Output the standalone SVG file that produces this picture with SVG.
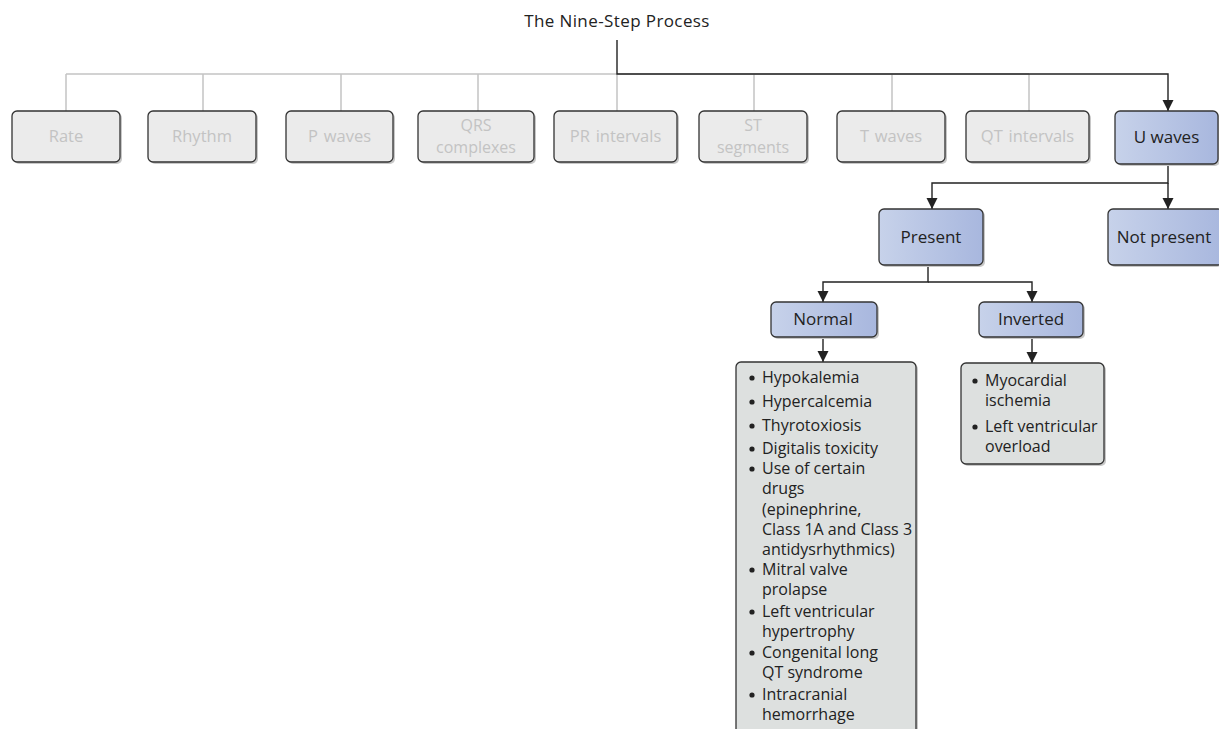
<svg xmlns="http://www.w3.org/2000/svg" width="1219" height="729" viewBox="0 0 1219 729">
<defs>
<linearGradient id="blue" x1="0" y1="0" x2="1" y2="0">
<stop offset="0" stop-color="#c7d2ea"/>
<stop offset="1" stop-color="#a8b7de"/>
</linearGradient>
<marker id="arr" markerWidth="12" markerHeight="12" refX="11" refY="5.5" orient="auto" markerUnits="userSpaceOnUse" viewBox="0 0 12 12">
<path d="M0,0 L11,5.5 L0,11 Z" fill="#222"/>
</marker>
</defs>
<style>
text{font-family:"Open Sans","Liberation Sans",Arial,sans-serif;}
.title{font-size:17px;fill:#222;letter-spacing:0.4px;}
.sh{fill:#c8c8c8;}
.gbox{fill:#ebebeb;stroke:#333;stroke-width:1.3;}
.bbox{fill:url(#blue);stroke:#333;stroke-width:1.3;}
.lbox{fill:#dde0df;stroke:#333;stroke-width:1.3;}
.gt{font-size:16.5px;fill:#c3c3c3;text-anchor:middle;word-spacing:1.5px;}
.gt2{font-size:16px;fill:#c3c3c3;text-anchor:middle;}
.bt{font-size:17px;fill:#222;text-anchor:middle;}
.lt{font-size:16px;fill:#222;}
.gl{stroke:#c4c4c4;stroke-width:1.5;fill:none;}
.bl{stroke:#222;stroke-width:1.4;fill:none;}
</style>
<rect width="1219" height="729" fill="#fff"/>
<text class="title" x="617" y="27" text-anchor="middle">The Nine-Step Process</text>

<g id="connectors">
<path class="gl" d="M66,74 H617 M66,74 V111 M203,74 V111 M341,74 V111 M478,74 V111 M617,74 V111 M754,74 V111 M892,74 V111 M1029,74 V111"/>
<path class="gl" d="M617,74 H1029"/>
<path class="bl" d="M617,40 V74 H1168 V111" marker-end="url(#arr)"/>
<path class="bl" d="M1168,165 V183 H932 V209" marker-end="url(#arr)"/>
<path class="bl" d="M1168,183 V209" marker-end="url(#arr)"/>
<path class="bl" d="M928,265 V282 H823 V302" marker-end="url(#arr)"/>
<path class="bl" d="M928,282 H1032 V302" marker-end="url(#arr)"/>
<path class="bl" d="M823,337 V362" marker-end="url(#arr)"/>
<path class="bl" d="M1032,337 V363" marker-end="url(#arr)"/>
</g>

<g id="n-rate"><rect class="sh" x="14" y="113" width="108" height="51" rx="5"/><rect class="gbox" x="12" y="111" width="108" height="51" rx="5"/><text class="gt" x="66" y="142">Rate</text></g>
<g id="n-rhythm"><rect class="sh" x="150" y="113" width="108" height="51" rx="5"/><rect class="gbox" x="148" y="111" width="108" height="51" rx="5"/><text class="gt" x="202" y="142">Rhythm</text></g>
<g id="n-pwaves"><rect class="sh" x="288" y="113" width="107" height="51" rx="5"/><rect class="gbox" x="286" y="111" width="107" height="51" rx="5"/><text class="gt" x="339.5" y="142">P waves</text></g>
<g id="n-qrs"><rect class="sh" x="420" y="113" width="116" height="51" rx="5"/><rect class="gbox" x="418" y="111" width="116" height="51" rx="5"/><text class="gt2" x="476" y="131">QRS</text><text class="gt2" x="476" y="153">complexes</text></g>
<g id="n-pr"><rect class="sh" x="556" y="113" width="123" height="51" rx="5"/><rect class="gbox" x="554" y="111" width="123" height="51" rx="5"/><text class="gt" x="615.5" y="142">PR intervals</text></g>
<g id="n-st"><rect class="sh" x="701" y="113" width="108" height="51" rx="5"/><rect class="gbox" x="699" y="111" width="108" height="51" rx="5"/><text class="gt2" x="753" y="131">ST</text><text class="gt2" x="753" y="153">segments</text></g>
<g id="n-twaves"><rect class="sh" x="839" y="113" width="108" height="51" rx="5"/><rect class="gbox" x="837" y="111" width="108" height="51" rx="5"/><text class="gt" x="891" y="142">T waves</text></g>
<g id="n-qt"><rect class="sh" x="968" y="113" width="123" height="51" rx="5"/><rect class="gbox" x="966" y="111" width="123" height="51" rx="5"/><text class="gt" x="1027.5" y="142">QT intervals</text></g>
<g id="n-uwaves"><rect class="sh" x="1117" y="113" width="103" height="53" rx="5"/><rect class="bbox" x="1115" y="111" width="103" height="53" rx="5"/><text class="bt" x="1166.5" y="143">U waves</text></g>

<g id="n-present"><rect class="sh" x="881" y="211" width="104" height="56" rx="5"/><rect class="bbox" x="879" y="209" width="104" height="56" rx="5"/><text class="bt" x="931" y="243">Present</text></g>
<g id="n-notpresent"><rect class="sh" x="1110" y="211" width="112" height="56" rx="5"/><rect class="bbox" x="1108" y="209" width="115" height="56" rx="5"/><text class="bt" x="1164" y="243">Not present</text></g>

<g id="n-normal"><rect class="sh" x="773" y="304" width="106" height="35" rx="5"/><rect class="bbox" x="771" y="302" width="106" height="35" rx="5"/><text class="bt" x="823" y="325">Normal</text></g>
<g id="n-inverted"><rect class="sh" x="981" y="304" width="104" height="35" rx="5"/><rect class="bbox" x="979" y="302" width="104" height="35" rx="5"/><text class="bt" x="1031" y="325">Inverted</text></g>

<g id="n-normal-list">
<rect class="sh" x="738" y="364" width="180" height="380" rx="5"/>
<rect class="lbox" x="736" y="362" width="180" height="380" rx="5"/>
<circle cx="752" cy="378" r="2.6" fill="#222"/><text class="lt" x="762" y="383">Hypokalemia</text>
<circle cx="752" cy="402" r="2.6" fill="#222"/><text class="lt" x="762" y="407">Hypercalcemia</text>
<circle cx="752" cy="426" r="2.6" fill="#222"/><text class="lt" x="762" y="431">Thyrotoxiosis</text>
<circle cx="752" cy="449" r="2.6" fill="#222"/><text class="lt" x="762" y="454">Digitalis toxicity</text>
<circle cx="752" cy="469" r="2.6" fill="#222"/><text class="lt" x="762" y="474">Use of certain</text>
<text class="lt" x="762" y="494">drugs</text>
<text class="lt" x="762" y="515">(epinephrine,</text>
<text class="lt" x="762" y="535">Class 1A and Class 3</text>
<text class="lt" x="762" y="555">antidysrhythmics)</text>
<circle cx="752" cy="570" r="2.6" fill="#222"/><text class="lt" x="762" y="575">Mitral valve</text>
<text class="lt" x="762" y="595">prolapse</text>
<circle cx="752" cy="612" r="2.6" fill="#222"/><text class="lt" x="762" y="617">Left ventricular</text>
<text class="lt" x="762" y="637">hypertrophy</text>
<circle cx="752" cy="653" r="2.6" fill="#222"/><text class="lt" x="762" y="658">Congenital long</text>
<text class="lt" x="762" y="678">QT syndrome</text>
<circle cx="752" cy="695" r="2.6" fill="#222"/><text class="lt" x="762" y="700">Intracranial</text>
<text class="lt" x="762" y="720">hemorrhage</text>
</g>

<g id="n-inverted-list">
<rect class="sh" x="963" y="365" width="143" height="101" rx="5"/>
<rect class="lbox" x="961" y="363" width="143" height="101" rx="5"/>
<circle cx="975" cy="381" r="2.6" fill="#222"/><text class="lt" x="985" y="386">Myocardial</text>
<text class="lt" x="985" y="406">ischemia</text>
<circle cx="975" cy="427" r="2.6" fill="#222"/><text class="lt" x="985" y="432">Left ventricular</text>
<text class="lt" x="985" y="452">overload</text>
</g>
</svg>
